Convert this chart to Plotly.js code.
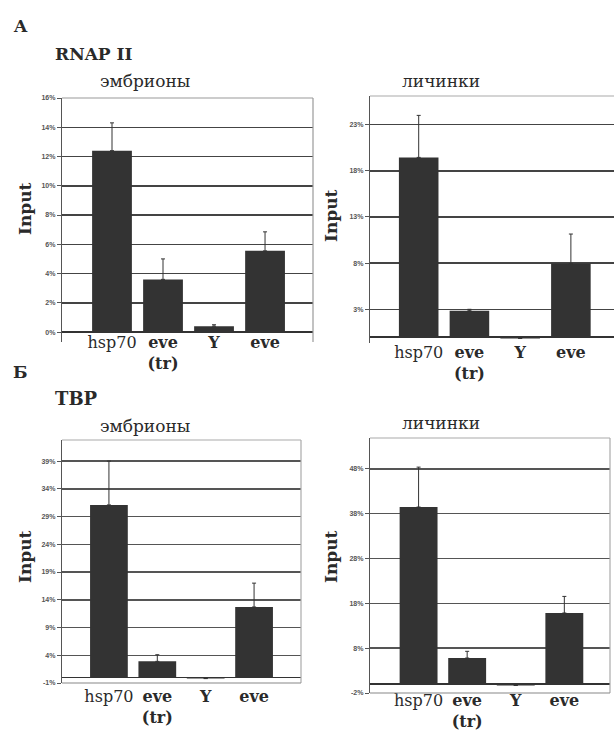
<!DOCTYPE html>
<html>
<head>
<meta charset="utf-8">
<script src="https://cdn.plot.ly/plotly-3.0.1.min.js"></script>
<style>html,body{margin:0;padding:0;background:#fff;}</style>
</head>
<body>
<div id="chart" style="width:614px;height:735px;"></div>
<script>
// ---- data ----
const categories = ["hsp70", "<b>eve</b><br><b>(tr)</b>", "<b>Y</b>", "<b>eve</b>"];
const catPos = [0, 1, 2, 3];

// RNAP II
const rnapEmbryo = [12.4, 3.6, 0.4, 5.55];
const rnapEmbryoErr = [1.9, 1.4, 0.1, 1.3];
const rnapLarva = [19.45, 2.85, -0.15, 7.95];
const rnapLarvaErr = [4.55, 0.15, 0, 3.2];
// TBP
const tbpEmbryo = [31.1, 2.9, -0.2, 12.7];
const tbpEmbryoErr = [7.9, 1.2, 0, 4.3];
const tbpLarva = [39.5, 5.8, -0.3, 15.85];
const tbpLarvaErr = [8.9, 1.5, 0, 3.7];

const ticks1 = [0, 2, 4, 6, 8, 10, 12, 14, 16];
const ticks2 = [3, 8, 13, 18, 23];
const ticks3 = [-1, 4, 9, 14, 19, 24, 29, 34, 39];
const ticks4 = [-2, 8, 18, 28, 38, 48];

// ---- helpers ----
const W = 614, H = 735;
const px = v => v / W;
const py = v => 1 - v / H;
const zeros = [0, 0, 0, 0];

function barTrace(vals, errs, xa, ya) {
  return {
    type: 'bar', x: catPos, y: vals, xaxis: xa, yaxis: ya,
    marker: {color: '#333333', line: {width: 0}},
    width: 0.78,
    error_y: {type: 'data', symmetric: false, array: errs, arrayminus: zeros,
              color: '#333', thickness: 1, width: 2},
    showlegend: false, hoverinfo: 'skip'
  };
}

const serif = "DejaVu Serif";
const tickFont = {family: "Liberation Sans", size: 7, color: '#555', weight: 'bold'};

function xAxis(dom, rng, anchor, standoff) {
  return {
    domain: [px(dom[0]), px(dom[1])], range: rng, anchor: anchor,
    tickmode: 'array', tickvals: catPos, ticktext: categories,
    ticks: '', showgrid: false, zeroline: false, showline: false,
    tickfont: {family: serif, size: 16, color: '#2a2a2a'},
    ticklabelstandoff: standoff, fixedrange: true
  };
}
function yAxis(dom, rng, anchor, tv, gridc) {
  return {
    domain: [py(dom[1]), py(dom[0])], range: rng, anchor: anchor,
    tickmode: 'array', tickvals: tv, ticktext: tv.map(v => v + '%'),
    ticks: 'outside', ticklen: 4, tickcolor: '#555', tickwidth: 1,
    showline: true, linecolor: '#555', linewidth: 1.2,
    showgrid: true, gridcolor: gridc, gridwidth: 1.5,
    zeroline: true, zerolinecolor: '#333', zerolinewidth: 1.5,
    tickfont: tickFont, fixedrange: true
  };
}

const data = [
  barTrace(rnapEmbryo, rnapEmbryoErr, 'x', 'y'),
  barTrace(rnapLarva, rnapLarvaErr, 'x2', 'y2'),
  barTrace(tbpEmbryo, tbpEmbryoErr, 'x3', 'y3'),
  barTrace(tbpLarva, tbpLarvaErr, 'x4', 'y4')
];

function ann(text, x, y, size, opts) {
  return Object.assign({
    text: text, x: px(x), y: py(y), xref: 'paper', yref: 'paper',
    showarrow: false, font: {family: serif, size: size, color: '#2a2a2a'},
    xanchor: 'center', yanchor: 'middle'
  }, opts || {});
}

function box(xa, color) {
  const ya = xa === 'x' ? 'y' : 'y' + xa.slice(1);
  return [
    {type: 'line', xref: xa + ' domain', yref: ya + ' domain',
     x0: 0, x1: 1, y0: 1, y1: 1, line: {color: color, width: 1.2}},
    {type: 'line', xref: xa + ' domain', yref: ya + ' domain',
     x0: 1, x1: 1, y0: 0, y1: 1, line: {color: color, width: 1.2}}
  ];
}
function bottom(xa, color) {
  return {type: 'line', xref: xa + ' domain', yref: 'y' + xa.slice(1) + ' domain',
          x0: 0, x1: 1, y0: 0, y1: 0, line: {color: color, width: 1.2}};
}

const layout = {
  width: W, height: H,
  margin: {l: 0, r: 0, t: 0, b: 0},
  paper_bgcolor: '#fff', plot_bgcolor: '#fff',
  font: {family: serif},
  xaxis: xAxis([62, 313], [-0.98, 3.94], 'y', -11),
  yaxis: yAxis([98, 342], [-0.68, 16], 'x', ticks1, '#444'),
  xaxis2: xAxis([370, 614], [-0.96, 3.85], 'y2', -2),
  yaxis2: yAxis([96, 343], [-0.65, 26.1], 'x2', ticks2, '#444'),
  xaxis3: xAxis([62, 301], [-0.97, 3.97], 'y3', 2),
  yaxis3: yAxis([440, 683], [-1, 42.8], 'x3', ticks3, '#555'),
  xaxis4: xAxis([370, 610], [-1.0, 3.94], 'y4', -4),
  yaxis4: yAxis([438, 693], [-2, 54.9], 'x4', ticks4, '#555'),
  shapes: [].concat(
    box('x', '#999'), [box('x2', '#aaa')[0]],
    box('x3', '#aaa'), box('x4', '#aaa'),
    [bottom('x3', '#888'), bottom('x4', '#888')]
  ),
  annotations: [
    ann('<b>A</b>', 20, 26, 17),
    ann('<b>RNAP II</b>', 53, 54, 17, {xanchor: 'left'}),
    ann('эмбрионы', 145, 81, 17),
    ann('личинки', 441, 81, 17),
    ann('<b>Б</b>', 20, 372, 17),
    ann('<b>TBP</b>', 53, 399, 18, {xanchor: 'left'}),
    ann('эмбрионы', 145, 426, 17),
    ann('личинки', 441, 423, 17),
    ann('<b>Input</b>', 25, 209, 17, {textangle: -90}),
    ann('<b>Input</b>', 331, 216, 17, {textangle: -90}),
    ann('<b>Input</b>', 25, 557, 17, {textangle: -90}),
    ann('<b>Input</b>', 331, 557, 17, {textangle: -90})
  ]
};

Plotly.newPlot('chart', data, layout, {displayModeBar: false, staticPlot: true});
</script>
</body>
</html>
